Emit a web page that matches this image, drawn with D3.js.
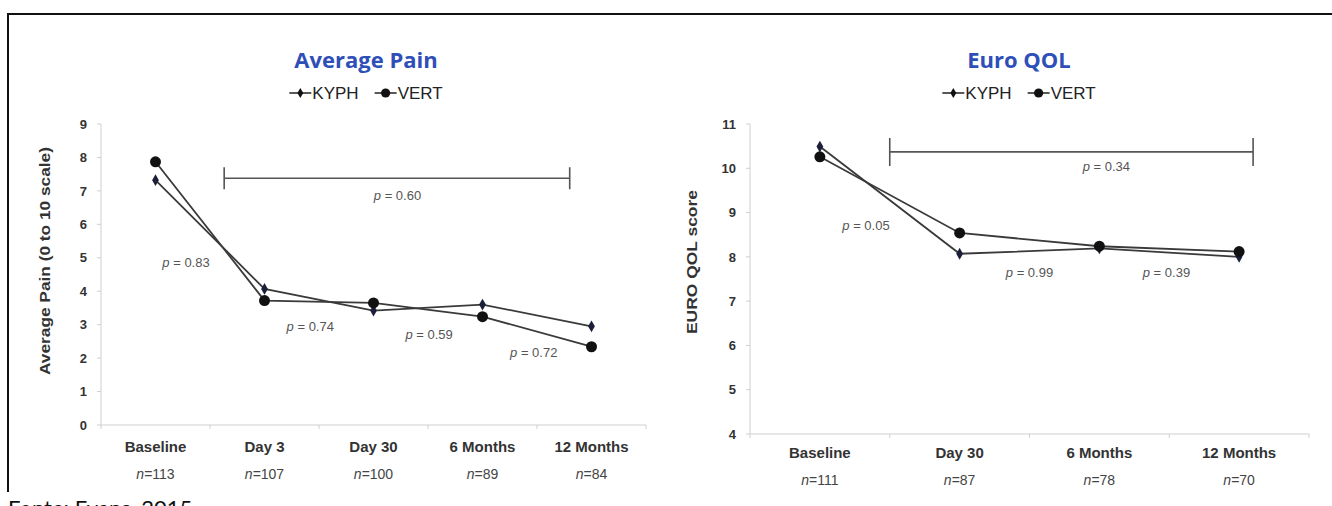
<!DOCTYPE html>
<html>
<head>
<meta charset="utf-8">
<script src="https://cdn.jsdelivr.net/npm/d3@7"></script>
<style>
  body { margin: 0; background: #fff; }
  svg { display: block; }
  .tick-lbl { font-family: Arial, "Liberation Sans", sans-serif; font-weight: bold; font-size: 13px; fill: #333; }
  .cat-lbl { font-family: Arial, "Liberation Sans", sans-serif; font-weight: bold; font-size: 15px; fill: #333; }
  .n-lbl { font-family: Arial, "Liberation Sans", sans-serif; font-size: 14px; fill: #444; }
  .pval { font-family: Arial, "Liberation Sans", sans-serif; font-size: 13px; fill: #555; }
  .title { font-family: "Open Sans", sans-serif; font-weight: bold; font-size: 22px; fill: #2f4fb8; }
  .legend { font-family: Arial, "Liberation Sans", sans-serif; font-size: 17px; fill: #222; }
</style>
</head>
<body>
<div class="charts"></div>
<script>
//////////////
// Data
//////////////

// Average Pain panel
var painCats = ['Baseline', 'Day 3', 'Day 30', '6 Months', '12 Months'];
var painN = ['113', '107', '100', '89', '84'];
var painKyph = [7.32, 4.07, 3.42, 3.6, 2.95];
var painVert = [7.87, 3.72, 3.65, 3.24, 2.34];
var painTicks = [0, 1, 2, 3, 4, 5, 6, 7, 8, 9];
var painP = ['0.83', '0.74', '0.59', '0.72'];
var painOverallP = '0.60';

// Euro QOL panel
var qolCats = ['Baseline', 'Day 30', '6 Months', '12 Months'];
var qolN = ['111', '87', '78', '70'];
var qolKyph = [10.49, 8.07, 8.19, 8.0];
var qolVert = [10.26, 8.54, 8.24, 8.12];
var qolTicks = [4, 5, 6, 7, 8, 9, 10, 11];
var qolP = ['0.05', '0.99', '0.39'];
var qolOverallP = '0.34';

var seriesNames = ['KYPH', 'VERT'];

//////////////
// Layout
//////////////

var w = 1332, h = 506;

var svg = d3.select('div.charts')
  .append('svg')
  .attr('width', w)
  .attr('height', h);

// frame round the figure
svg.append('line').attr('x1', 8).attr('x2', w).attr('y1', 14).attr('y2', 14)
  .attr('stroke', '#111').attr('stroke-width', 2);
svg.append('line').attr('x1', 8).attr('x2', 8).attr('y1', 13).attr('y2', 492)
  .attr('stroke', '#111').attr('stroke-width', 2);

svg.append('text')
  .attr('x', 8).attr('y', 516)
  .attr('font-family', 'Lato, "Open Sans", sans-serif')
  .attr('font-size', 22)
  .attr('fill', '#111')
  .text('Fonte: Evans, 2015');

// one panel = one chart
function drawPanel(cfg) {
  var n = cfg.cats.length;
  // index scale, category i sits in the middle of its band
  var x = d3.scaleLinear().domain([-0.5, n - 0.5]).range([cfg.x0, cfg.x1]);
  var y = d3.scaleLinear().domain(cfg.yDomain).range([cfg.y0, cfg.y1]);

  var g = svg.append('g');

  // y axis
  g.append('line')
    .attr('x1', cfg.x0).attr('x2', cfg.x0)
    .attr('y1', y(cfg.yDomain[0])).attr('y2', y(cfg.yDomain[1]))
    .attr('stroke', '#cfcfcf');
  g.selectAll('line.ytick').data(cfg.ticks).enter().append('line')
    .attr('class', 'ytick')
    .attr('x1', cfg.x0 - 4).attr('x2', cfg.x0)
    .attr('y1', d => y(d)).attr('y2', d => y(d))
    .attr('stroke', '#cfcfcf');
  g.selectAll('text.ylbl').data(cfg.ticks).enter().append('text')
    .attr('class', 'tick-lbl ylbl')
    .attr('x', cfg.x0 - 14).attr('y', d => y(d))
    .attr('dy', '0.36em')
    .attr('text-anchor', 'end')
    .text(d => d);

  // x axis
  g.append('line')
    .attr('x1', cfg.x0).attr('x2', cfg.x1)
    .attr('y1', cfg.y0).attr('y2', cfg.y0)
    .attr('stroke', '#cfcfcf');
  g.selectAll('line.xtick').data(d3.range(n + 1)).enter().append('line')
    .attr('class', 'xtick')
    .attr('x1', d => x(d - 0.5)).attr('x2', d => x(d - 0.5))
    .attr('y1', cfg.y0).attr('y2', cfg.y0 + 4)
    .attr('stroke', '#cfcfcf');
  g.selectAll('text.cat').data(cfg.cats).enter().append('text')
    .attr('class', 'cat-lbl cat')
    .attr('x', (d, i) => x(i)).attr('y', cfg.y0 + cfg.catOff)
    .attr('dy', '0.36em')
    .attr('text-anchor', 'middle')
    .text(d => d);
  var nl = g.selectAll('text.nn').data(cfg.nvals).enter().append('text')
    .attr('class', 'n-lbl nn')
    .attr('x', (d, i) => x(i)).attr('y', cfg.y0 + cfg.nOff)
    .attr('dy', '0.36em')
    .attr('text-anchor', 'middle');
  nl.append('tspan').attr('font-style', 'italic').text('n');
  nl.append('tspan').text(d => '=' + d);

  // y axis title
  g.append('text')
    .attr('transform', 'translate(' + cfg.yTitleX + ',' + cfg.yTitleY + ') rotate(-90)')
    .attr('text-anchor', 'middle')
    .attr('dy', '0.36em')
    .attr('font-family', 'Arial, "Liberation Sans", sans-serif')
    .attr('font-size', 14)
    .attr('font-weight', 'bold')
    .attr('fill', '#333')
    .attr('textLength', cfg.yTitleLen)
    .attr('lengthAdjust', 'spacingAndGlyphs')
    .text(cfg.yTitle);

  // overall bracket
  var b = cfg.bracket;
  g.append('path')
    .attr('d', 'M' + x(b.from) + ',' + (y(b.at) - b.cap) + 'V' + (y(b.at) + b.cap) +
               'M' + x(b.from) + ',' + y(b.at) + 'H' + x(b.to) +
               'M' + x(b.to) + ',' + (y(b.at) - b.cap) + 'V' + (y(b.at) + b.cap))
    .attr('fill', 'none')
    .attr('stroke', '#555')
    .attr('stroke-width', 1.6);

  // p values, placed in data units
  var pdata = cfg.pvals.map((p, i) => ({p: p, xi: cfg.pPos[i][0], v: cfg.pPos[i][1]}));
  pdata.push({p: cfg.overallP, xi: b.labelX, v: b.labelV});
  var pt = g.selectAll('text.pval').data(pdata).enter().append('text')
    .attr('class', 'pval')
    .attr('x', d => x(d.xi)).attr('y', d => y(d.v))
    .attr('dy', '0.36em')
    .attr('text-anchor', 'middle');
  pt.append('tspan').attr('font-style', 'italic').text('p');
  pt.append('tspan').text(d => ' = ' + d.p);

  // series lines
  var line = d3.line().x((d, i) => x(i)).y(d => y(d));
  [cfg.kyph, cfg.vert].forEach(function(s) {
    g.append('path')
      .attr('d', line(s))
      .attr('fill', 'none')
      .attr('stroke', '#3a3a3a')
      .attr('stroke-width', 1.8);
  });

  // markers
  var diamond = d3.symbol().type(d3.symbolDiamond).size(40);
  g.selectAll('path.kyph').data(cfg.kyph).enter().append('path')
    .attr('class', 'kyph')
    .attr('d', diamond)
    .attr('transform', (d, i) => 'translate(' + x(i) + ',' + y(d) + ')')
    .attr('fill', '#1c1f3a');
  g.selectAll('circle.vert').data(cfg.vert).enter().append('circle')
    .attr('class', 'vert')
    .attr('cx', (d, i) => x(i)).attr('cy', d => y(d))
    .attr('r', 5.5)
    .attr('fill', '#111');

  // title
  g.append('text')
    .attr('class', 'title')
    .attr('x', cfg.titleX).attr('y', 60)
    .attr('dy', '0.36em')
    .attr('text-anchor', 'middle')
    .text(cfg.title);

  // legend
  var leg = g.append('g');
  var cx = 0;
  seriesNames.forEach(function(name, i) {
    var item = leg.append('g').attr('transform', 'translate(' + cx + ',0)');
    item.append('line').attr('x1', 0).attr('x2', 22).attr('y1', 0).attr('y2', 0)
      .attr('stroke', '#222').attr('stroke-width', 1.5);
    if (i === 0) {
      item.append('path').attr('d', d3.symbol().type(d3.symbolDiamond).size(30))
        .attr('transform', 'translate(11,0)').attr('fill', '#111');
    } else {
      item.append('circle').attr('cx', 11).attr('cy', 0).attr('r', 4.6).attr('fill', '#111');
    }
    var t = item.append('text').attr('class', 'legend')
      .attr('x', 23).attr('y', 0).attr('dy', '0.36em').text(name);
    cx += 23 + t.node().getComputedTextLength() + 16;
  });
  var lw = cx - 16;
  leg.attr('transform', 'translate(' + (cfg.titleX - lw / 2) + ',93)');
}

drawPanel({
  cats: painCats, nvals: painN, kyph: painKyph, vert: painVert, ticks: painTicks,
  pvals: painP, overallP: painOverallP,
  yDomain: [0, 9], x0: 101, x1: 646, y0: 425, y1: 124,
  catOff: 22, nOff: 49,
  title: 'Average Pain', titleX: 366,
  yTitle: 'Average Pain (0 to 10 scale)', yTitleLen: 228, yTitleX: 45, yTitleY: 261,
  pPos: [[0.28, 4.86], [1.42, 2.94], [2.51, 2.7], [3.47, 2.16]],
  bracket: {from: 0.63, to: 3.8, at: 7.38, cap: 11, labelX: 2.22, labelV: 6.87}
});

drawPanel({
  cats: qolCats, nvals: qolN, kyph: qolKyph, vert: qolVert, ticks: qolTicks,
  pvals: qolP, overallP: qolOverallP,
  yDomain: [4, 11], x0: 750, x1: 1309, y0: 434, y1: 124,
  catOff: 19, nOff: 46,
  title: 'Euro QOL', titleX: 1019,
  yTitle: 'EURO QOL score', yTitleLen: 144, yTitleX: 692, yTitleY: 262,
  pPos: [[0.33, 8.72], [1.5, 7.66], [2.48, 7.66]],
  bracket: {from: 0.5, to: 3.1, at: 10.37, cap: 14, labelX: 2.05, labelV: 10.05}
});
</script>
</body>
</html>
